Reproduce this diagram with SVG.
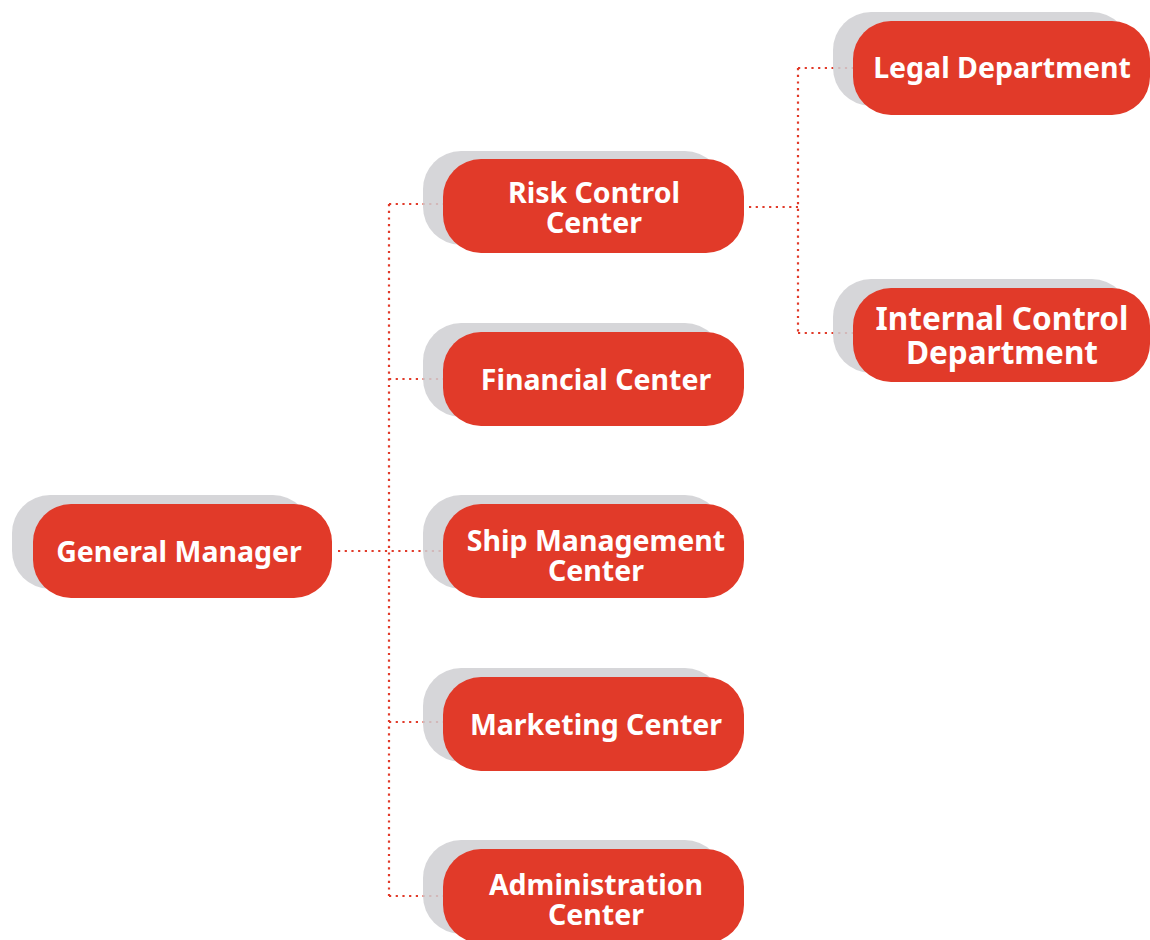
<svg xmlns="http://www.w3.org/2000/svg" width="1150" height="940" viewBox="0 0 1150 940">
<style>
.sh{fill:#cfcfd2;fill-opacity:0.85}
.bx{fill:#e13a29}
.t{font-family:"Noto Sans","Liberation Sans",sans-serif;font-weight:bold;font-size:28.5px;fill:#ffffff;text-anchor:middle}
.tl{font-size:31.5px}
.c{fill:none;stroke:#e13a29;stroke-width:2.2;stroke-dasharray:2.2 4.5}
</style>
<rect width="1150" height="940" fill="#ffffff"/>
<g id="connectors">
<path class="c" d="M338 551H443"/>
<path class="c" d="M389 204V896"/>
<path class="c" d="M389 204H443M389 379H443M389 722H443M389 896H443"/>
<path class="c" d="M749 207H798"/>
<path class="c" d="M798 68V333"/>
<path class="c" d="M798 68H853M798 333H853"/>
</g>
<g id="general-manager">
<rect class="sh" x="12" y="495" width="299" height="94" rx="38"/>
<rect class="bx" x="33" y="504" width="299" height="94" rx="38"/>
<text class="t" x="179" y="562">General Manager</text>
</g>
<g id="risk-control-center">
<rect class="sh" x="423" y="151" width="300" height="94" rx="38"/>
<rect class="bx" x="443" y="159" width="301" height="94" rx="38"/>
<text class="t" x="594" y="203">Risk Control</text>
<text class="t" x="594" y="233">Center</text>
</g>
<g id="financial-center">
<rect class="sh" x="423" y="323" width="300" height="94" rx="38"/>
<rect class="bx" x="443" y="332" width="301" height="94" rx="38"/>
<text class="t" x="596" y="390">Financial Center</text>
</g>
<g id="ship-management-center">
<rect class="sh" x="423" y="495" width="300" height="94" rx="38"/>
<rect class="bx" x="443" y="504" width="301" height="94" rx="38"/>
<text class="t" x="596" y="551">Ship Management</text>
<text class="t" x="596" y="581">Center</text>
</g>
<g id="marketing-center">
<rect class="sh" x="423" y="668" width="300" height="94" rx="38"/>
<rect class="bx" x="443" y="677" width="301" height="94" rx="38"/>
<text class="t" x="596" y="735">Marketing Center</text>
</g>
<g id="administration-center">
<rect class="sh" x="423" y="840" width="300" height="94" rx="38"/>
<rect class="bx" x="443" y="849" width="301" height="94" rx="38"/>
<text class="t" x="596" y="895">Administration</text>
<text class="t" x="596" y="925">Center</text>
</g>
<g id="legal-department">
<rect class="sh" x="833" y="12" width="297" height="94" rx="38"/>
<rect class="bx" x="853" y="21" width="297" height="94" rx="38"/>
<text class="t" x="1002" y="78">Legal Department</text>
</g>
<g id="internal-control-department">
<rect class="sh" x="833" y="279" width="297" height="94" rx="38"/>
<rect class="bx" x="853" y="288" width="297" height="94" rx="38"/>
<text class="t tl" x="1002" y="330">Internal Control</text>
<text class="t tl" x="1002" y="364">Department</text>
</g>
</svg>
